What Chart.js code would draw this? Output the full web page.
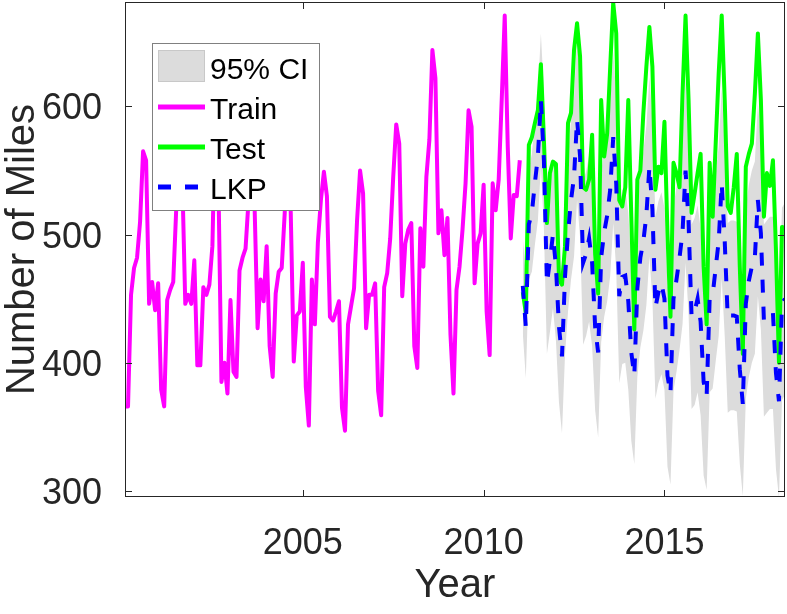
<!DOCTYPE html>
<html><head><meta charset="utf-8">
<script src="https://cdn.jsdelivr.net/npm/chart.js@4.4.1/dist/chart.umd.min.js"></script>
<style>html,body{margin:0;padding:0;background:#fff}#wrap{width:787px;height:614px;position:relative}</style>
</head><body><div id="wrap"><canvas id="c"></canvas></div>
<script>
// ---- data (monthly, first point = Jan 2000) ----
const startYear = 2000;
const train = [
366,366,453,474,482,510,565,558,446,463,441,462,
379,366,449,457,463,520,590,545,446,453,446,480,
398,398,459,453,461,491,600,540,385,400,376,449,
393,389,472,482,489,527,605,522,427,465,448,491,
413,389,454,471,474,517,600,517,401,437,440,478,
381,351,465,430,494,527,549,530,436,433,440,448,
365,347,430,444,458,511,550,532,427,453,453,462,
378,359,459,470,497,545,586,571,452,493,504,509,
413,396,505,475,545,574,644,622,501,519,484,513,
422,376,457,475,504,540,597,584,462,493,501,539,
440,406,540,519,543,605,671,569,497,531,530,558
];
const test = [
455,439,570,576,587,597,633,574,509,548,557,555,
465,461,491,587,595,644,665,639,537,535,543,578,
485,454,605,561,579,631,681,657,527,522,537,605,
514,426,543,550,595,631,662,631,535,553,548,588,
501,436,556,548,537,610,671,605,517,532,548,563,
475,430,556,514,571,626,671,605,522,517,537,563,
475,407,553,563,571,610,657,605,514,548,538,558,
488,400,506,505
];
const lkp = [
460,428,508,517,540,561,605,558,462,480,500,475,
428,405,467,501,527,545,590,561,478,485,497,478,
428,408,482,502,515,535,576,540,452,467,468,448,
408,390,458,482,495,515,553,520,443,455,462,450,
390,376,450,465,482,502,550,510,436,440,450,432,
385,374,450,453,474,495,540,495,435,437,437,436,
395,368,446,464,475,482,527,501,433,436,439,439,
392,370,446,450
];
const ciLow = [
423,388,465,471,492,511,553,505,407,424,443,417,
369,345,406,440,465,483,527,498,414,421,432,413,
363,342,416,436,448,468,509,472,384,399,400,379,
339,321,389,412,425,445,483,450,372,384,391,379,
319,305,378,393,410,430,478,438,364,367,377,359,
312,301,377,380,401,421,466,421,361,363,363,362,
321,296,372,389,400,407,452,426,358,361,364,364,
317,295,371,375
];
const ciHigh = [
497,468,551,563,588,611,657,611,517,536,557,533,
487,465,528,562,589,607,653,624,542,549,562,543,
493,474,548,568,582,602,643,608,520,535,536,517,
477,459,527,552,565,585,623,590,514,526,533,521,
461,447,522,537,554,574,622,582,508,513,523,505,
458,447,523,526,547,569,614,569,509,511,511,510,
469,440,520,539,550,557,602,576,508,511,514,514,
467,445,521,525
];
const seriesNames = ['95% CI', 'Train', 'Test', 'LKP'];
const xTicks = [2005, 2010, 2015];
const yTicks = [300, 400, 500, 600];
const yRange = [295.3, 681.5];
const xTitle = 'Year';
const yTitle = 'Number of Miles';

// ---- build ----
const N = train.length + test.length;
const xLabels = [];
for (let i = 0; i < N; i++) xLabels.push(startYear + (i + 1) / 12);
const pre = new Array(train.length).fill(null);
const post = new Array(test.length).fill(null);

const FONT = "'Liberation Sans', Arial, Helvetica, sans-serif";
const AX = '#262626';
const BAND = '#dcdcdc';

const matlabBox = {
  id: 'matlabBox',
  afterDatasetsDraw(chart) {
    const {ctx, chartArea: a, scales: {x, y}} = chart;
    ctx.save();
    ctx.strokeStyle = AX; ctx.lineWidth = 1;
    ctx.strokeRect(a.left + 0.5, a.top + 0.5, a.right - a.left - 1, a.bottom - a.top - 1);
    const L = 7;
    ctx.beginPath();
    yTicks.forEach(v => {
      const p = Math.round(y.getPixelForValue(v)) + 0.5;
      ctx.moveTo(a.left, p); ctx.lineTo(a.left + L, p);
      ctx.moveTo(a.right, p); ctx.lineTo(a.right - L, p);
    });
    xTicks.forEach(v => {
      const p = Math.round(x.getPixelForValue(v)) + 0.5;
      ctx.moveTo(p, a.bottom); ctx.lineTo(p, a.bottom - L);
      ctx.moveTo(p, a.top); ctx.lineTo(p, a.top + L);
    });
    ctx.stroke();
    ctx.restore();
  }
};

const insetLegend = {
  id: 'insetLegend',
  afterDraw(chart) {
    const {ctx, chartArea: a} = chart;
    const ds = chart.data.datasets;
    const bx = a.left + 27, by = a.top + 41, bw = 167, bh = 167;
    ctx.save();
    ctx.fillStyle = '#ffffff';
    ctx.fillRect(bx, by, bw, bh);
    ctx.strokeStyle = '#808080'; ctx.lineWidth = 1;
    ctx.strokeRect(bx + 0.5, by + 0.5, bw, bh);
    ctx.font = '30px ' + FONT;
    ctx.textBaseline = 'alphabetic';
    ctx.textAlign = 'left';
    const sx0 = bx + 6, sx1 = bx + 53, tx = bx + 58;
    seriesNames.forEach((name, i) => {
      const base = by + 36 + 40 * i;
      if (i === 0) {
        ctx.fillStyle = BAND;
        ctx.fillRect(sx0, by + 7, sx1 - sx0, 32);
        ctx.strokeStyle = '#c8c8c8'; ctx.lineWidth = 1;
        ctx.strokeRect(sx0 + 0.5, by + 7.5, sx1 - sx0 - 1, 31);
      } else {
        const d = ds.find(s => s.label === name);
        ctx.strokeStyle = d.borderColor;
        ctx.lineWidth = 5;
        ctx.setLineDash(d.borderDash || []);
        ctx.beginPath();
        ctx.moveTo(sx0, base - 12); ctx.lineTo(sx1, base - 12);
        ctx.stroke();
        ctx.setLineDash([]);
      }
      ctx.fillStyle = '#000000';
      ctx.fillText(name, tx, base);
    });
    ctx.restore();
  }
};

function noPad(s) { s.paddingTop = 0; s.paddingBottom = 0; s.paddingLeft = 0; s.paddingRight = 0; }

new Chart(document.getElementById('c'), {
  type: 'line',
  data: {
    labels: xLabels,
    datasets: [
      { label: seriesNames[3], data: pre.concat(lkp), borderColor: '#0000ff', borderWidth: 4,
        borderDash: [13, 14], borderCapStyle: 'butt', pointRadius: 0, fill: false, order: 0 },
      { label: seriesNames[2], data: pre.concat(test), borderColor: '#00ff00', borderWidth: 4,
        borderJoinStyle: 'round', pointRadius: 0, fill: false, order: 1 },
      { label: seriesNames[1], data: train.concat(post), borderColor: '#ff00ff', borderWidth: 4,
        borderJoinStyle: 'round', pointRadius: 0, fill: false, order: 2 },
      { label: 'ciHigh', data: pre.concat(ciHigh), borderColor: 'rgba(0,0,0,0)', borderWidth: 1,
        backgroundColor: BAND, pointRadius: 0, fill: '+1', order: 3 },
      { label: 'ciLow', data: pre.concat(ciLow), borderColor: 'rgba(0,0,0,0)', borderWidth: 1,
        pointRadius: 0, fill: false, order: 4 }
    ]
  },
  options: {
    responsive: true,
    maintainAspectRatio: false,
    animation: false,
    layout: { padding: { top: 2, right: 2, left: 0, bottom: 0 } },
    plugins: { legend: { display: false }, tooltip: { enabled: false } },
    elements: { line: { tension: 0 } },
    scales: {
      x: {
        type: 'linear',
        min: xLabels[0], max: xLabels[N - 1],
        afterBuildTicks: s => { s.ticks = xTicks.map(v => ({ value: v })); },
        afterFit: s => { s.height = 117; noPad(s); },
        grid: { display: false },
        border: { display: false },
        ticks: { autoSkip: false, maxRotation: 0, padding: 17, color: AX,
          font: { family: FONT, size: 36 }, callback: v => String(v) },
        title: { display: true, text: xTitle, color: AX, font: { family: FONT, size: 40 },
          padding: { top: 0, bottom: 4 } }
      },
      y: {
        min: yRange[0], max: yRange[1],
        afterBuildTicks: s => { s.ticks = yTicks.map(v => ({ value: v })); },
        afterFit: s => { s.width = 125; noPad(s); },
        grid: { display: false },
        border: { display: false },
        ticks: { padding: 15, color: AX, labelOffset: 3,
          font: { family: FONT, size: 36 }, callback: v => String(v) },
        title: { display: true, text: yTitle, color: AX,
          font: { family: FONT, size: 40, lineHeight: 1.15 }, padding: { top: 0, bottom: 0 } }
      }
    }
  },
  plugins: [matlabBox, insetLegend]
});
</script>
</body></html>
